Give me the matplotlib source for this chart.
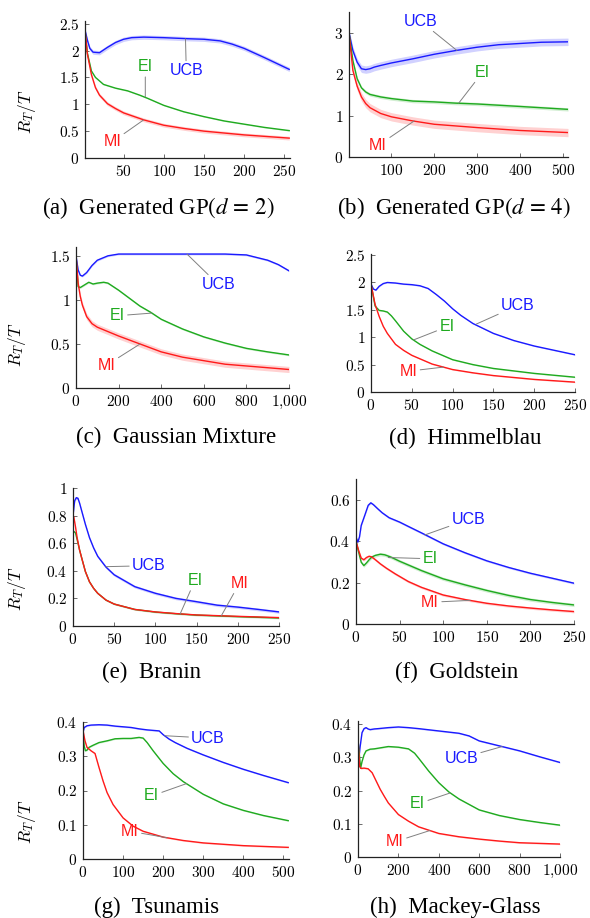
"""Average regret R_T/T of UCB, EI and MI on eight benchmark problems."""

from __future__ import annotations

import matplotlib

matplotlib.use("Agg")

import matplotlib.pyplot as plt
import numpy as np

plt.rcParams["mathtext.fontset"] = "cm"

# ---------------------------------------------------------------- data ----
# (a) Generated GP (d=2)
A_UCB_X = [2, 5, 8, 12, 20, 30, 40, 50, 60, 75, 100, 130, 150, 170, 185, 200, 225, 256]
A_UCB_Y = [2.38, 2.19, 2.04, 1.97, 1.96, 2.06, 2.15, 2.21, 2.24, 2.25, 2.24, 2.22,
           2.21, 2.18, 2.12, 2.04, 1.87, 1.65]
A_EI_X = [2, 5, 10, 15, 25, 40, 55, 70, 80, 100, 125, 150, 175, 200, 225, 256]
A_EI_Y = [2.38, 1.95, 1.62, 1.50, 1.37, 1.30, 1.25, 1.17, 1.11, 0.98, 0.86, 0.77,
          0.69, 0.63, 0.57, 0.51]
A_MI_X = [2, 5, 10, 15, 20, 30, 40, 50, 75, 100, 125, 150, 200, 256]
A_MI_Y = [2.38, 1.93, 1.55, 1.31, 1.17, 1.01, 0.92, 0.84, 0.71, 0.61, 0.55, 0.50,
          0.43, 0.37]
A_BAND = [0.04, 0.01, 0.035]

# (b) Generated GP (d=4)
B_UCB_X = [1, 10, 20, 30, 40, 50, 60, 75, 100, 150, 200, 250, 300, 350, 400, 450, 512]
B_UCB_Y = [3.0, 2.57, 2.29, 2.13, 2.11, 2.13, 2.17, 2.21, 2.27, 2.37, 2.48, 2.57,
           2.65, 2.71, 2.74, 2.77, 2.78]
B_EI_X = [1, 10, 20, 30, 40, 50, 75, 100, 150, 200, 250, 300, 400, 512]
B_EI_Y = [3.0, 2.33, 1.89, 1.67, 1.57, 1.51, 1.45, 1.41, 1.35, 1.33, 1.30, 1.28,
          1.22, 1.15]
B_MI_X = [1, 10, 20, 30, 40, 50, 75, 100, 150, 200, 300, 400, 512]
B_MI_Y = [3.0, 2.09, 1.71, 1.45, 1.29, 1.19, 1.05, 0.97, 0.87, 0.79, 0.71, 0.64, 0.59]
B_BAND = [0.09, 0.04, 0.1]

# (c) Gaussian Mixture
C_UCB_X = [0, 10, 20, 30, 50, 75, 100, 150, 200, 300, 500, 700, 800, 850, 900, 950, 1000]
C_UCB_Y = [1.5, 1.34, 1.28, 1.27, 1.31, 1.39, 1.45, 1.50, 1.52, 1.52, 1.52, 1.52,
           1.51, 1.48, 1.45, 1.40, 1.33]
C_EI_X = [0, 10, 20, 40, 60, 80, 100, 130, 150, 200, 250, 300, 350, 400, 500, 600,
          700, 800, 900, 1000]
C_EI_Y = [1.5, 1.15, 1.14, 1.17, 1.20, 1.18, 1.19, 1.20, 1.19, 1.11, 1.02, 0.93,
          0.86, 0.78, 0.67, 0.58, 0.51, 0.45, 0.41, 0.375]
C_MI_X = [0, 10, 20, 30, 50, 75, 100, 150, 200, 300, 400, 500, 600, 700, 800, 900, 1000]
C_MI_Y = [1.5, 1.19, 1.04, 0.94, 0.81, 0.73, 0.69, 0.64, 0.59, 0.50, 0.41, 0.35,
          0.31, 0.27, 0.25, 0.23, 0.21]
C_BAND = [0.01, 0.01, 0.035]

# (d) Himmelblau
D_UCB_X = [0, 3, 6, 10, 15, 20, 30, 40, 50, 60, 70, 80, 90, 100, 110, 125, 150,
           175, 200, 225, 250]
D_UCB_Y = [1.97, 1.88, 1.86, 1.93, 1.98, 2.0, 1.99, 1.97, 1.96, 1.94, 1.89, 1.78,
           1.66, 1.52, 1.40, 1.25, 1.07, 0.94, 0.84, 0.76, 0.68]
D_EI_X = [0, 5, 10, 15, 20, 25, 30, 40, 50, 60, 75, 100, 125, 150, 200, 250]
D_EI_Y = [1.97, 1.57, 1.49, 1.48, 1.46, 1.39, 1.30, 1.11, 0.97, 0.87, 0.75, 0.59,
          0.50, 0.43, 0.34, 0.27]
D_MI_X = [0, 5, 10, 15, 20, 30, 40, 50, 75, 100, 125, 150, 200, 250]
D_MI_Y = [1.97, 1.60, 1.38, 1.20, 1.07, 0.87, 0.76, 0.67, 0.51, 0.41, 0.35, 0.30,
          0.23, 0.18]
D_BAND = [0.01, 0.01, 0.01]

# (e) Branin
E_UCB_X = [0, 2, 4, 6, 8, 10, 15, 20, 25, 30, 40, 50, 75, 100, 125, 150, 175, 200,
           225, 250]
E_UCB_Y = [0.80, 0.907, 0.93, 0.925, 0.89, 0.846, 0.737, 0.64, 0.566, 0.505, 0.427,
           0.371, 0.285, 0.237, 0.20, 0.176, 0.151, 0.137, 0.12, 0.102]
E_EI_X = [0, 3, 5, 8, 10, 15, 20, 25, 30, 40, 50, 75, 100, 125, 150, 200, 250]
E_EI_Y = [0.69, 0.675, 0.627, 0.55, 0.505, 0.395, 0.32, 0.273, 0.237, 0.188, 0.159,
          0.12, 0.101, 0.089, 0.079, 0.068, 0.058]
E_MI_X = [0, 1, 3, 5, 8, 10, 15, 20, 25, 30, 40, 50, 75, 100, 125, 150, 200, 250]
E_MI_Y = [0.80, 0.79, 0.72, 0.64, 0.55, 0.505, 0.395, 0.32, 0.273, 0.237, 0.188,
          0.159, 0.12, 0.102, 0.09, 0.08, 0.07, 0.061]
E_BAND = [0.01, 0.006, 0.005]

# (f) Goldstein
F_UCB_X = [0, 2, 4, 6, 10, 14, 17, 20, 25, 30, 38, 50, 60, 75, 100, 125, 150, 175,
           200, 225, 250]
F_UCB_Y = [0.42, 0.395, 0.42, 0.476, 0.524, 0.573, 0.585, 0.576, 0.556, 0.537, 0.513,
           0.492, 0.471, 0.44, 0.387, 0.344, 0.305, 0.273, 0.245, 0.221, 0.197]
F_EI_X = [0, 3, 6, 9, 12, 15, 18, 22, 28, 33, 40, 50, 60, 75, 100, 125, 150, 175,
          200, 225, 250]
F_EI_Y = [0.40, 0.347, 0.298, 0.282, 0.295, 0.31, 0.323, 0.331, 0.337, 0.334, 0.323,
          0.303, 0.285, 0.258, 0.218, 0.189, 0.162, 0.138, 0.118, 0.104, 0.092]
F_MI_X = [0, 3, 6, 9, 12, 15, 18, 22, 28, 35, 45, 60, 75, 100, 125, 150, 175, 200,
          225, 250]
F_MI_Y = [0.40, 0.355, 0.318, 0.31, 0.321, 0.327, 0.324, 0.311, 0.29, 0.269, 0.242,
          0.205, 0.177, 0.14, 0.118, 0.10, 0.087, 0.077, 0.068, 0.06]
F_BAND = [0.005, 0.008, 0.006]

# (g) Tsunamis
G_UCB_X = [0, 3, 10, 20, 40, 60, 80, 100, 120, 140, 160, 190, 200, 215, 230, 260,
           300, 350, 400, 450, 512]
G_UCB_Y = [0.37, 0.384, 0.389, 0.391, 0.392, 0.391, 0.388, 0.386, 0.384, 0.38, 0.377,
           0.374, 0.363, 0.35, 0.34, 0.323, 0.304, 0.282, 0.262, 0.244, 0.223]
G_EI_X = [0, 3, 6, 10, 15, 25, 40, 60, 80, 100, 120, 140, 150, 160, 175, 200, 225,
          250, 300, 350, 400, 450, 512]
G_EI_Y = [0.37, 0.33, 0.316, 0.318, 0.326, 0.332, 0.34, 0.345, 0.351, 0.352, 0.352,
          0.355, 0.353, 0.34, 0.316, 0.279, 0.249, 0.226, 0.189, 0.161, 0.142, 0.127,
          0.112]
G_MI_X = [0, 5, 10, 20, 30, 40, 50, 60, 75, 100, 125, 150, 200, 250, 300, 400, 512]
G_MI_Y = [0.375, 0.345, 0.326, 0.316, 0.308, 0.267, 0.228, 0.194, 0.159, 0.12, 0.096,
          0.081, 0.064, 0.054, 0.047, 0.039, 0.034]
G_BAND = [0.002, 0.002, 0.002]

# (h) Mackey-Glass
H_UCB_X = [0, 5, 10, 20, 30, 40, 50, 60, 80, 100, 150, 200, 250, 300, 400, 500, 550,
           600, 700, 800, 900, 1000]
H_UCB_Y = [0.36, 0.30, 0.33, 0.375, 0.387, 0.39, 0.386, 0.384, 0.386, 0.387, 0.39,
           0.392, 0.39, 0.387, 0.38, 0.373, 0.365, 0.35, 0.335, 0.32, 0.302, 0.285]
H_EI_X = [0, 13, 20, 30, 40, 60, 80, 100, 150, 200, 250, 280, 300, 350, 400, 450,
          500, 600, 700, 800, 900, 1000]
H_EI_Y = [0.352, 0.268, 0.288, 0.308, 0.32, 0.325, 0.326, 0.328, 0.333, 0.331, 0.326,
          0.313, 0.298, 0.259, 0.224, 0.196, 0.175, 0.142, 0.125, 0.113, 0.104, 0.096]
H_MI_X = [0, 8, 15, 30, 50, 70, 90, 110, 130, 150, 200, 250, 300, 400, 500, 600, 700,
          800, 1000]
H_MI_Y = [0.355, 0.273, 0.267, 0.268, 0.266, 0.254, 0.229, 0.204, 0.183, 0.163, 0.128,
          0.108, 0.091, 0.071, 0.061, 0.054, 0.048, 0.043, 0.039]
H_BAND = [0.002, 0.002, 0.002]

METHODS = ["UCB", "EI", "MI"]
COLORS = {"UCB": "#1a1aff", "EI": "#1faa1f", "MI": "#ff1a1a"}

CAPTIONS = [
    r"(a)  Generated GP$(d\,{=}\,2)$",
    r"(b)  Generated GP$(d\,{=}\,4)$",
    "(c)  Gaussian Mixture",
    "(d)  Himmelblau",
    "(e)  Branin",
    "(f)  Goldstein",
    "(g)  Tsunamis",
    "(h)  Mackey-Glass",
]

# label placement: method -> (text x, text y, pin x, pin y) in data units
PINS = [
    {"UCB": (128, 1.62, 127, 2.22), "EI": (77, 1.70, 77, 1.14), "MI": (36, 0.30, 75, 0.71)},
    {"UCB": (168, 3.28, 253, 2.57), "EI": (313, 2.05, 257, 1.30), "MI": (69, 0.28, 153, 0.87)},
    {"UCB": (670, 1.17, 521, 1.52), "EI": (194, 0.82, 356, 0.85), "MI": (144, 0.26, 301, 0.50)},
    {"UCB": (180, 1.58, 129, 1.24), "EI": (93, 1.19, 52, 0.95), "MI": (46, 0.38, 89, 0.455)},
    {"UCB": (92, 0.437, 40, 0.43), "EI": (148, 0.33, 130, 0.087), "MI": (202, 0.31, 180, 0.074)},
    {"UCB": (129, 0.505, 79, 0.43), "EI": (85, 0.315, 37, 0.321), "MI": (85, 0.105, 131, 0.114)},
    {"UCB": (312, 0.353, 204, 0.36), "EI": (171, 0.184, 258, 0.22), "MI": (117, 0.081, 210, 0.062)},
    {"UCB": (511, 0.298, 714, 0.333), "EI": (295, 0.16, 456, 0.193), "MI": (183, 0.046, 357, 0.08)},
]

SERIES = [
    (A_UCB_X, A_UCB_Y, A_EI_X, A_EI_Y, A_MI_X, A_MI_Y, A_BAND),
    (B_UCB_X, B_UCB_Y, B_EI_X, B_EI_Y, B_MI_X, B_MI_Y, B_BAND),
    (C_UCB_X, C_UCB_Y, C_EI_X, C_EI_Y, C_MI_X, C_MI_Y, C_BAND),
    (D_UCB_X, D_UCB_Y, D_EI_X, D_EI_Y, D_MI_X, D_MI_Y, D_BAND),
    (E_UCB_X, E_UCB_Y, E_EI_X, E_EI_Y, E_MI_X, E_MI_Y, E_BAND),
    (F_UCB_X, F_UCB_Y, F_EI_X, F_EI_Y, F_MI_X, F_MI_Y, F_BAND),
    (G_UCB_X, G_UCB_Y, G_EI_X, G_EI_Y, G_MI_X, G_MI_Y, G_BAND),
    (H_UCB_X, H_UCB_Y, H_EI_X, H_EI_Y, H_MI_X, H_MI_Y, H_BAND),
]

X_TICKS = [
    [50, 100, 150, 200, 250],
    [100, 200, 300, 400, 500],
    [0, 200, 400, 600, 800, 1000],
    [0, 50, 100, 150, 200, 250],
    [0, 50, 100, 150, 200, 250],
    [0, 50, 100, 150, 200, 250],
    [0, 100, 200, 300, 400, 500],
    [0, 200, 400, 600, 800, 1000],
]
Y_TICKS = [
    [0, 0.5, 1, 1.5, 2, 2.5],
    [0, 1, 2, 3],
    [0, 0.5, 1, 1.5],
    [0, 0.5, 1, 1.5, 2, 2.5],
    [0, 0.2, 0.4, 0.6, 0.8, 1],
    [0, 0.2, 0.4, 0.6],
    [0, 0.1, 0.2, 0.3, 0.4],
    [0, 0.1, 0.2, 0.3, 0.4],
]
X_LIMS = [(2, 257), (1, 512), (0, 1000), (0, 250), (0, 250), (0, 250), (0, 514), (0, 1000)]
Y_LIMS = [(0, 2.55), (0, 3.5), (0, 1.6), (0, 2.52), (0, 1.0), (0, 0.7), (0, 0.4), (0, 0.41)]

# ------------------------------------------------------------- layout ----
W, H = 590, 918
# axes boxes in pixels: left, right, top, bottom
BOXES = [
    (85, 290, 21, 158), (349, 568, 12, 157),
    (76, 289, 247, 388), (371, 575, 254, 392),
    (73, 279, 488, 626), (356, 574, 479, 624),
    (83, 289, 722, 859), (358, 560, 721, 857),
]
CAPTION_POS = [(158, 208), (454, 208), (176, 437), (465, 438),
               (151, 672), (457, 672), (157, 907), (455, 907)]
YLABEL_POS = {0: (27, 112), 2: (17, 345), 4: (17, 589), 6: (27, 822)}


def _fmt(v: float) -> str:
    if v >= 1000:
        return r"$1{,}000$"
    return f"${v:g}$"


def _draw_panel(ax: plt.Axes, i: int) -> None:
    ux, uy, ex, ey, mx, my, band = SERIES[i]
    data = {"UCB": (ux, uy), "EI": (ex, ey), "MI": (mx, my)}
    for k, m in enumerate(METHODS):
        x, y = np.asarray(data[m][0]), np.asarray(data[m][1])
        ax.fill_between(x, y - band[k], y + band[k], color=COLORS[m], alpha=0.2, lw=0)
        ax.plot(x, y, color=COLORS[m], lw=1.0)
        tx, ty, px, py = PINS[i][m]
        ax.annotate(
            m, xy=(px, py), xytext=(tx, ty), color=COLORS[m], fontsize=11.5,
            family="Liberation Sans", ha="center", va="center",
            annotation_clip=False,
            arrowprops=dict(arrowstyle="-", color="#808080", lw=0.7, shrinkA=0, shrinkB=0),
        )

    ax.set_xlim(*X_LIMS[i])
    ax.set_ylim(*Y_LIMS[i])
    ax.set_xticks(X_TICKS[i])
    ax.set_xticklabels([_fmt(v) for v in X_TICKS[i]])
    ax.set_yticks(Y_TICKS[i])
    ax.set_yticklabels([_fmt(v) for v in Y_TICKS[i]])
    ax.tick_params(direction="in", length=3, width=0.6, color="#555555",
                   labelsize=11, pad=4)
    for side in ("top", "right"):
        ax.spines[side].set_visible(False)
    for side in ("left", "bottom"):
        ax.spines[side].set_linewidth(0.9)
        ax.spines[side].set_color("#222222")


def main() -> None:
    fig = plt.figure(figsize=(W / 100, H / 100), dpi=100)
    for i, (l, r, t, b) in enumerate(BOXES):
        ax = fig.add_axes([l / W, 1 - b / H, (r - l) / W, (b - t) / H])
        _draw_panel(ax, i)
        cx, cy = CAPTION_POS[i]
        fig.text(cx / W, 1 - cy / H, CAPTIONS[i], ha="center", va="center",
                 fontsize=16.5, family="Liberation Serif", math_fontfamily="stix")
        if i in YLABEL_POS:
            lx, ly = YLABEL_POS[i]
            fig.text(lx / W, 1 - ly / H, r"$R_T/T$", rotation=90, ha="center",
                     va="center", fontsize=12.5)
    fig.savefig("out.png", dpi=100)
    plt.close(fig)


if __name__ == "__main__":
    main()
